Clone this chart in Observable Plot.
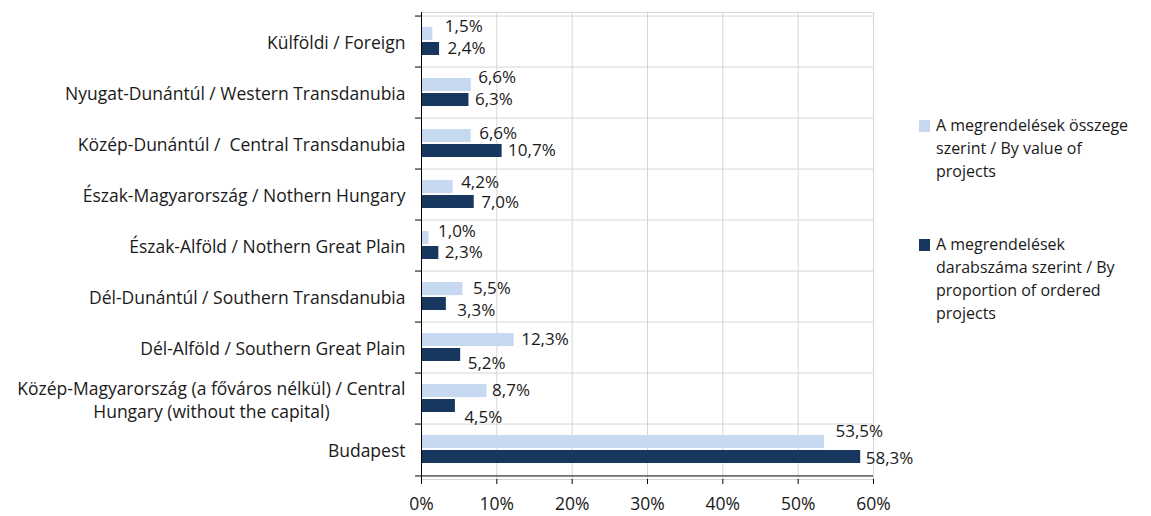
<!DOCTYPE html>
<html><head><meta charset="utf-8">
<script src="https://cdn.jsdelivr.net/npm/d3@7"></script>
<script src="https://cdn.jsdelivr.net/npm/@observablehq/plot@0.6"></script>
<style>
body{margin:0;background:#fff;font-family:"Open Sans", sans-serif;}
#wrap{position:relative;width:1151px;height:516px;}
.leg{position:absolute;left:919px;font-size:16px;line-height:23px;color:#1a1a1a;}
.leg .sw{position:absolute;left:0;width:11px;height:12px;}
.leg .tx{position:absolute;left:17px;white-space:nowrap;}
</style></head><body><div id="wrap"></div>
<script>
const categories = [
  "Külföldi / Foreign",
  "Nyugat-Dunántúl / Western Transdanubia",
  "Közép-Dunántúl /  Central Transdanubia",
  "Észak-Magyarország / Nothern Hungary",
  "Észak-Alföld / Nothern Great Plain",
  "Dél-Dunántúl / Southern Transdanubia",
  "Dél-Alföld / Southern Great Plain",
  "Közép-Magyarország (a főváros nélkül) / Central\nHungary (without the capital)",
  "Budapest"
];
const valueShare = [1.5, 6.6, 6.6, 4.2, 1.0, 5.5, 12.3, 8.7, 53.5];
const countShare = [2.4, 6.3, 10.7, 7.0, 2.3, 3.3, 5.2, 4.5, 58.3];
const seriesNames = [
  ["A megrendelések összege", "szerint / By value of", "projects"],
  ["A megrendelések", "darabszáma szerint / By", "proportion of ordered", "projects"]
];
const xTicks = [0, 10, 20, 30, 40, 50, 60];

// styling
const colors = ["#c6d9f0", "#17375e"];
const FS = 17.5, VFS = 17;
const W = 1151, H = 516, mTop = 12, mBottom = 37, mLeft = 421, mRight = 278;
const half = (H - mTop - mBottom) / categories.length / 2;
// label nudges (px) to mimic the reference's label placement
const nudgeLight = [[12,-7],[7,-7],[8,-2],[8,-4],[9,-6],[10,0],[7,0],[5,0],[11,-10]];
const nudgeDark  = [[8,0],[6,0],[6,0],[7,1],[6,0],[11,7],[7,9],[9,12],[5,2]];

const rows = categories.map((c, i) => ({category: c, value: valueShare[i], count: countShare[i]}));
const fmt = v => d3.format(".1f")(v).replace(".", ",") + "%";

const chart = Plot.plot({
  width: W, height: H,
  marginTop: mTop, marginBottom: mBottom, marginLeft: mLeft, marginRight: mRight,
  style: {fontFamily: "'Open Sans', sans-serif", fontSize: FS + "px", color: "#1a1a1a", background: "#fff"},
  x: {domain: [0, 60], label: null},
  y: {domain: categories, padding: 0, label: null},
  marks: [
    Plot.gridX(xTicks, {stroke: "#d6d6d6", strokeOpacity: 1}),
    Plot.gridY({dy: -half, stroke: "#d6d6d6", strokeOpacity: 1}),
    Plot.frame({stroke: "#d6d6d6"}),
    Plot.barX(rows, {x: "value", y: "category", fill: colors[0], insetTop: 11, insetBottom: 2 * half - 25}),
    Plot.barX(rows, {x: "count", y: "category", fill: colors[1], insetTop: 26, insetBottom: 12}),
    Plot.text(rows, {x: "value", y: "category", text: d => fmt(d.value), textAnchor: "start", dy: -8, fontSize: VFS, fill: "#1a1a1a"}),
    Plot.text(rows, {x: "count", y: "category", text: d => fmt(d.count), textAnchor: "start", dy: 7, fontSize: VFS, fill: "#1a1a1a"}),
    Plot.ruleX([0], {stroke: "#000"}),
    Plot.ruleY([categories[categories.length - 1]], {dy: half, stroke: "#000"}),
    Plot.axisY({tickSize: 6, tickFormat: () => "", dy: -half, stroke: "#000", label: null}),
    Plot.axisY([categories[categories.length - 1]], {tickSize: 6, tickFormat: () => "", dy: half, stroke: "#000", label: null}),
    Plot.axisY({tickSize: 0, tickPadding: 16, fontSize: FS, lineHeight: 1.33, label: null}),
    Plot.axisX(xTicks, {tickSize: 5, tickPadding: 13, tickFormat: d => d + "%", fontSize: FS, stroke: "#000", label: null})
  ]
});

const wrap = document.getElementById("wrap");
wrap.appendChild(chart);

// apply label nudges (the two value-label text marks, in order)
const textGroups = chart.querySelectorAll('g[aria-label="text"]');
function nudge(g, arr) {
  if (!g) return;
  g.querySelectorAll("text").forEach((el, i) => {
    const t = el.getAttribute("transform") || "";
    el.setAttribute("transform", t + ` translate(${arr[i][0]},${arr[i][1]})`);
  });
}
nudge(textGroups[0], nudgeLight);
nudge(textGroups[1], nudgeDark);

// center the wrapped lines of multi-line category labels (Excel style)
chart.querySelectorAll('g[aria-label="y-axis tick label"] text').forEach(el => {
  el.style.whiteSpace = "pre";
  const tspans = el.querySelectorAll("tspan");
  if (tspans.length > 1) {
    const w = tspans[0].getComputedTextLength();
    el.setAttribute("text-anchor", "middle");
    const t = el.getAttribute("transform") || "";
    el.setAttribute("transform", t + ` translate(${-w / 2},0)`);
  }
});

// legend (HTML, to the right of the plot)
const legTops = [114, 233];
seriesNames.forEach((lines, k) => {
  const div = document.createElement("div");
  div.className = "leg";
  div.style.top = legTops[k] + "px";
  const sw = document.createElement("div");
  sw.className = "sw"; sw.style.background = colors[k]; sw.style.top = "6px";
  const tx = document.createElement("div");
  tx.className = "tx"; tx.innerHTML = lines.join("<br>");
  div.appendChild(sw); div.appendChild(tx);
  wrap.appendChild(div);
});
</script></body></html>
